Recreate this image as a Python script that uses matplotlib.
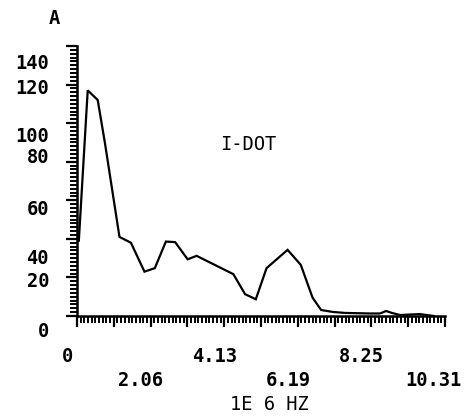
import numpy as np
import matplotlib
matplotlib.use('Agg')
import matplotlib.pyplot as plt
from matplotlib.ticker import MultipleLocator, NullFormatter

# spectrum of I-DOT, frequency in MHz
freq = [0.00, 0.05, 0.30, 0.58, 0.78, 1.19, 1.51, 1.89, 2.18, 2.49, 2.75,
        3.10, 3.35, 4.38, 4.71, 5.01, 5.31, 5.90, 6.27, 6.60, 6.84, 7.17,
        7.50, 8.20, 8.49, 8.66, 8.82, 9.05, 9.60, 10.00]
amp = [40.0, 38.6, 117.0, 112.0, 90.0, 41.0, 38.0, 23.0, 24.8, 38.6, 38.3,
       29.4, 31.2, 21.7, 11.3, 8.7, 24.8, 34.3, 26.5, 9.5, 3.1, 2.1,
       1.6, 1.3, 1.3, 2.6, 1.6, 0.5, 1.0, 0.0]

x_labels = ['0', '2.06', '4.13', '6.19', '8.25', '10.31']
x_label_pos = [0.0, 2.06, 4.13, 6.19, 8.25, 10.31]
y_labels = ['140', '120', '100', '80', '60', '40', '20', '0']
# plotter put the y labels a bit off their ticks
y_label_pos = [131, 118, 93, 82, 55, 30, 18, -8]

FONT = 'DejaVu Sans Mono'
FS = 13.5

fig = plt.figure(figsize=(4.65, 4.17), dpi=100)
ax = fig.add_axes([77 / 465, 101 / 417, 368 / 465, 270 / 417])

ax.plot(freq, amp, color='black', linewidth=1.6, solid_joinstyle='miter')

ax.set_xlim(0, 10.31)
ax.set_ylim(0, 140)
for side in ('top', 'right'):
    ax.spines[side].set_visible(False)
for side in ('left', 'bottom'):
    ax.spines[side].set_linewidth(1.8)

ax.xaxis.set_major_locator(MultipleLocator(1.031))
ax.xaxis.set_minor_locator(MultipleLocator(0.1031))
ax.yaxis.set_major_locator(MultipleLocator(20))
ax.yaxis.set_minor_locator(MultipleLocator(2))
ax.xaxis.set_major_formatter(NullFormatter())
ax.yaxis.set_major_formatter(NullFormatter())
ax.tick_params(which='major', direction='out', length=8, width=1.6)
ax.tick_params(which='minor', direction='out', length=5, width=1.4)

# staggered x labels (two rows), plotter style
for i, (lab, pos) in enumerate(zip(x_labels, x_label_pos)):
    row = 0 if i % 2 == 0 else 1
    dx = -12 if lab == '10.31' else -10
    ax.annotate(lab, xy=(pos, 0), xycoords='data',
                xytext=(dx, -41 - 23 * row), textcoords='offset pixels',
                ha='center', va='center', fontsize=FS, family=FONT,
                fontweight='bold', annotation_clip=False)
for lab, pos in zip(y_labels, y_label_pos):
    ax.annotate(lab, xy=(0, pos), xycoords='data',
                xytext=(-28, 0), textcoords='offset pixels',
                ha='right', va='center', fontsize=FS, family=FONT,
                fontweight='bold', annotation_clip=False)

ax.annotate('1E 6 HZ', xy=(5.4, 0), xycoords='data',
            xytext=(0, -89), textcoords='offset pixels',
            ha='center', va='center', fontsize=FS, family=FONT,
            annotation_clip=False)
ax.text(4.79, 89, 'I-DOT', ha='center', va='center', fontsize=FS, family=FONT)
fig.text(54 / 465, 1 - 18 / 417, 'A', ha='center', va='center',
         fontsize=FS, family=FONT, fontweight='bold')

fig.savefig('out.png', dpi=100)
